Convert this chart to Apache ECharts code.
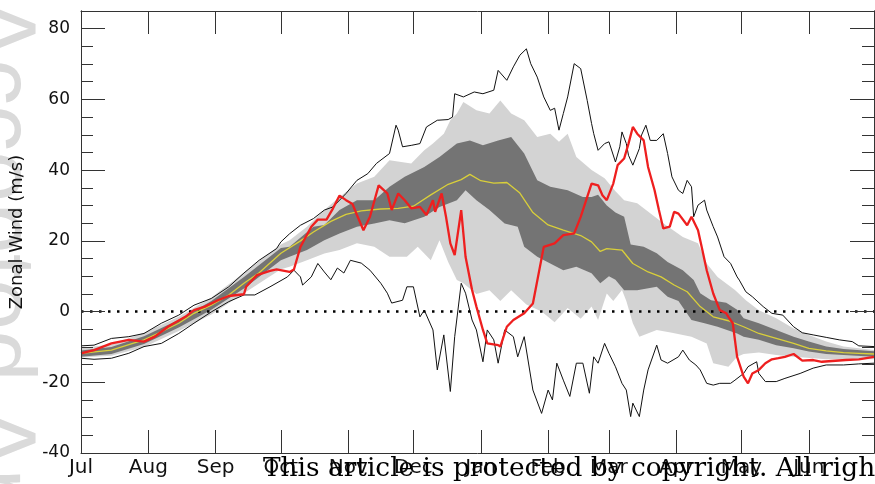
<!DOCTYPE html>
<html>
<head>
<meta charset="utf-8">
<script src="https://cdn.jsdelivr.net/npm/echarts@6/dist/echarts.min.js"></script>
<style>
  html, body { margin: 0; padding: 0; background: #fff; }
  #chart { width: 875px; height: 484px; }
</style>
</head>
<body>
<div id="chart"></div>
<script>
// days since 1 Jul
const monthStarts = [0, 31, 62, 92, 123, 153, 184, 215, 243, 274, 304, 335]
const monthNames = ['Jul', 'Aug', 'Sep', 'Oct', 'Nov', 'Dec', 'Jan', 'Feb', 'Mar', 'Apr', 'May', 'Jun']
const majorY = [-40, -20, 0, 20, 40, 60, 80]
const minorY = [-35, -30, -25, -15, -10, -5, 5, 10, 15, 25, 30, 35, 45, 50, 55, 65, 70, 75]

// [day, m/s]
const maxLine = [[0,-9.7],[6,-9.5],[14,-7.6],[22,-7.1],[29,-6.2],[37,-3.3],[45,-1],[52,1.8],[60,3.7],[68,7],[75,10.9],[82,14.5],[90,17.8],[92,19.7],[96,22],[101,24.4],[107,26.3],[112,28.7],[116,29.6],[122,33.4],[127,37.1],[132,39],[136,41.9],[139,43.3],[142,44.7],[145,52.7],[146,51.3],[148,46.6],[152,47],[156,47.5],[159,52.2],[164,54.1],[169,54.3],[171,55],[172,61.6],[176,60.7],[181,62.1],[185,61.6],[190,62.6],[192,68.2],[196,65.4],[199,69.2],[202,72.5],[205,74.3],[207,70.1],[210,66.3],[213,60.7],[216,56.9],[218,57.5],[220,51.3],[222,56],[224,60.7],[227,70.1],[230,68.7],[233,59.7],[235,53.2],[236,50.3],[238,45.6],[241,47.5],[243,48],[246,42.3],[248,46.6],[249,50.8],[251,47.5],[252,44.2],[254,41.4],[257,46.1],[258,49.9],[260,52.7],[262,48.4],[265,48.4],[268,50.3],[270,44.7],[272,38.1],[275,34.3],[277,33.4],[279,37.1],[281,35.3],[282,26.8],[284,30.1],[287,31.5],[288,28.7],[291,24],[293,21.1],[296,15.5],[299,13.6],[302,9.8],[303,8.9],[306,5.6],[309,4.2],[314,1.4],[318,-0.5],[323,-1],[328,-4.3],[332,-6],[337,-6.6],[343,-7.3],[349,-8],[355,-8.5],[358,-9.7],[365,-9.9]]

const minLine = [[0,-13.2],[6,-13.5],[14,-13.2],[22,-11.8],[29,-9.9],[37,-9],[45,-6.2],[52,-3.3],[60,-0.1],[68,2.8],[75,4.7],[80,4.7],[87,7],[95,9.8],[98,11.7],[101,9.8],[102,7.5],[106,9.8],[109,13.6],[112,11.2],[115,9],[118,12.3],[121,10.9],[124,14.5],[129,13.7],[133,11.7],[138,8],[141,5.2],[143,2.4],[148,3.2],[150,7],[153,7],[156,-1.5],[158,0.4],[162,-5.2],[164,-16.5],[167,-6.6],[170,-22.6],[172,-7.1],[175,8],[177,5.2],[180,-2.4],[182,-5.2],[185,-14.2],[187,-5.2],[190,-8],[192,-14.6],[195,-5.2],[199,-7.1],[201,-12.8],[204,-7.1],[208,-22.2],[212,-28.8],[215,-22.2],[217,-25],[219,-14.6],[222,-19.4],[225,-24],[228,-14.6],[231,-14.6],[234,-23.1],[236,-12.8],[238,-14.6],[241,-9],[243,-11.8],[246,-15.6],[249,-20.3],[251,-22.2],[253,-29.7],[254,-25.9],[257,-29.7],[259,-22.2],[261,-16.5],[265,-9.5],[267,-13.7],[270,-14.6],[275,-12.8],[277,-10.9],[280,-13.7],[283,-15.1],[285,-16.5],[288,-20.3],[291,-20.8],[294,-20.3],[299,-20.3],[301,-19.4],[305,-17.5],[307,-15.6],[311,-14.2],[312,-17.5],[315,-19.8],[320,-19.8],[324,-18.9],[331,-17.5],[337,-16],[343,-15.1],[351,-15.1],[358,-14.8],[365,-14.6]]

const redLine = [[0,-11.8],[6,-10.9],[14,-9],[22,-8],[29,-8.5],[34,-7.1],[40,-4.3],[48,-1.5],[52,0.4],[57,1.4],[63,3.2],[68,4.4],[75,4.9],[76,7],[81,10.3],[87,11.5],[90,11.9],[96,11.2],[98,11.9],[101,18.3],[106,24],[109,26],[113,26],[116,29.2],[119,32.8],[122,31.5],[125,30.4],[127,27.3],[130,23],[133,26.8],[137,35.7],[141,33.4],[143,28.7],[146,33.4],[149,31.5],[152,29.2],[156,29.6],[159,27.3],[162,31.5],[163,28.2],[166,33.4],[168,26.8],[170,19.3],[172,16],[175,28.7],[177,15.5],[180,6.1],[182,1.4],[185,-5.2],[187,-9],[192,-9.5],[193,-9.9],[196,-4.3],[199,-2.4],[204,-0.5],[208,2.3],[213,18.3],[218,19.3],[222,21.6],[227,22.1],[230,26.8],[235,36.2],[238,35.7],[240,32.9],[242,31.5],[245,36.2],[247,41.4],[250,43.3],[252,47.5],[254,52.2],[256,50.3],[259,48.4],[261,40.9],[264,34.3],[266,28.7],[268,23.5],[271,24],[273,28.2],[275,27.7],[279,24.4],[281,26.8],[284,23],[286,17.4],[288,11.7],[291,5.1],[294,0.4],[297,-0.5],[298,-1.5],[300,-3.3],[302,-12.8],[305,-18.4],[307,-20.3],[309,-17.5],[312,-16.5],[315,-14.6],[318,-13.5],[321,-13.2],[324,-12.8],[328,-12],[332,-13.9],[337,-13.7],[341,-14.2],[352,-13.7],[358,-13.5],[365,-12.8]]

const meanLine = [[0,-11.8],[14,-10.9],[29,-8],[37,-5.7],[45,-3.3],[52,-0.5],[60,1.8],[68,4.7],[75,8],[82,11],[92,16.5],[101,20],[107,22.5],[115,25.5],[122,27.5],[129,28.5],[138,29],[146,29.2],[153,29.8],[161,33],[169,36],[175,37.3],[179,38.8],[184,37],[190,36.3],[196,36.5],[202,33.5],[208,28],[215,24.5],[222,23],[230,21.5],[235,19.7],[239,17],[242,17.8],[249,17.4],[254,13.6],[261,11.2],[267,9.8],[273,7.5],[279,5.6],[285,1.4],[291,-1.5],[298,-2.6],[305,-4.3],[312,-6.2],[320,-7.6],[328,-9],[335,-10.4],[343,-11.1],[351,-11.6],[358,-11.8],[365,-12]]

const darkUpper = [[0,-11],[14,-10],[29,-7],[45,-2.3],[60,3],[75,9.8],[92,18],[96,18.3],[107,24],[112,24.5],[119,28.7],[127,31.5],[135,31.5],[142,35.3],[149,38.1],[158,40.9],[165,43.7],[173,47.5],[179,48.4],[185,47],[192,48.4],[198,49.4],[204,44.7],[210,37.1],[216,35.3],[224,34.3],[231,32.4],[235,32.4],[238,33],[242,30],[246,28],[250,26.8],[253,19],[259,18.3],[265,16.5],[270,14],[277,11.7],[282,8.9],[285,5.2],[290,3.2],[297,2.5],[302,0.5],[305,-1.9],[312,-3.3],[320,-5.2],[328,-7.1],[335,-8.5],[343,-9.9],[351,-10.6],[365,-11.2]]
const darkLower = [[0,-12.8],[14,-12],[29,-9.2],[45,-4.5],[60,0.5],[75,6.5],[92,14.5],[96,15.5],[104,17.4],[112,20.2],[119,22.1],[127,24],[135,24.9],[142,25.8],[149,25],[158,26.8],[165,29.6],[173,31.5],[177,34.3],[182,31.5],[188,28.7],[195,24.9],[201,24],[204,18.3],[210,15.5],[216,13.6],[222,11.7],[228,12.7],[235,10.8],[239,8],[243,10],[246,9],[250,6],[256,6],[265,7],[270,4.2],[275,3],[281,-2.4],[287,-3.3],[293,-4.3],[302,-6.2],[305,-7.1],[312,-8],[320,-9.5],[328,-10.4],[335,-11.3],[343,-12],[351,-12.3],[365,-12.8]]
const lightUpper = [[0,-10.3],[14,-9.3],[29,-6],[45,-1.5],[60,4],[75,11],[92,19],[96,20.2],[104,24],[112,28.7],[119,32.4],[127,36.2],[135,38.1],[142,42.8],[152,41.9],[158,45.6],[162,47.5],[167,50.3],[170,54.1],[173,56],[176,59.3],[182,56.9],[188,56],[193,59.7],[198,56],[204,54.1],[210,49.4],[216,50.3],[220,48],[224,50.3],[228,43.7],[235,40],[241,37.7],[246,34],[250,31.5],[256,30.6],[262,27.8],[268,25],[277,21.1],[284,19.3],[288,13.6],[293,9.8],[299,7],[301,6.1],[306,3.2],[312,0.4],[320,-1.9],[328,-4.8],[335,-6.6],[343,-8.5],[351,-9.9],[365,-10.9]]
const lightLower = [[0,-13],[14,-12.5],[29,-10],[45,-5.5],[60,-0.8],[75,5.2],[92,12],[96,12.7],[104,14.5],[112,16.4],[119,17.4],[127,19.3],[135,18.3],[142,15.5],[150,15.5],[155,18.3],[161,14.5],[165,20.2],[169,14],[173,8.9],[176,8],[182,5],[188,6],[193,3],[198,6],[205,2],[212,0],[218,-3],[224,1],[230,-2],[235,1.4],[238,-2.4],[242,5.1],[245,3],[249,6.1],[251,3],[254,-3.3],[257,-7.1],[265,-5.2],[272,-6],[281,-7.1],[288,-9],[291,-14.6],[298,-15.6],[302,-12.8],[305,-12],[312,-11.6],[320,-12.3],[328,-12.8],[343,-13.5],[365,-13.5]]

const zeroLine = [[0, 0], [365, 0]]

const FONT = '"DejaVu Sans", Helvetica, Arial, sans-serif'
const LIGHT = '#d3d3d3'
const DARK = '#747474'
const FRAME = '#333'

// band edges: each edge fills down to the bottom of the plot, painted in order
function band(data, color) {
  return {
    type: 'line', data: data, showSymbol: false, silent: true,
    lineStyle: { width: 0, opacity: 0 },
    areaStyle: { color: color, opacity: 1, origin: 'start' }
  }
}
function line(data, color, width, z) {
  return {
    type: 'line', data: data, showSymbol: false, silent: true, z: z || 3,
    lineStyle: { color: color, width: width }
  }
}

function yAxisOf(position, ticks, len, labels) {
  return {
    type: 'value', position: position, min: -40, max: 85, z: 10,
    axisLine: { show: true, onZero: false, lineStyle: { color: FRAME, width: 1 } },
    axisTick: { show: true, inside: true, length: len, customValues: ticks, lineStyle: { color: FRAME, width: 1 } },
    axisLabel: labels ? {
      show: true, customValues: majorY, margin: 11, fontSize: 17, color: '#111', fontFamily: FONT
    } : { show: false },
    splitLine: { show: false }
  }
}
function xAxisOf(position, labels) {
  return {
    type: 'value', position: position, min: 0, max: 365, z: 10,
    axisLine: { show: true, onZero: false, lineStyle: { color: FRAME, width: 1 } },
    axisTick: { show: true, inside: true, length: 23, customValues: monthStarts, lineStyle: { color: FRAME, width: 1 } },
    axisLabel: labels ? {
      show: true, customValues: monthStarts, margin: 5, fontSize: 20, color: '#111', fontFamily: FONT,
      formatter: v => monthNames[monthStarts.indexOf(v)]
    } : { show: false },
    splitLine: { show: false }
  }
}

const yMain = yAxisOf('left', majorY, 24, true)
yMain.name = 'Zonal Wind (m/s)'
yMain.nameLocation = 'middle'
yMain.nameRotate = 90
yMain.nameGap = 55
yMain.nameTextStyle = { fontSize: 18, color: '#111', fontFamily: FONT }

const option = {
  animation: false,
  backgroundColor: '#fff',
  grid: { left: 81, right: 1, top: 11, bottom: 31 },
  xAxis: [xAxisOf('bottom', true), xAxisOf('top', false)],
  yAxis: [yMain, yAxisOf('left', minorY, 12, false), yAxisOf('right', majorY, 24, false), yAxisOf('right', minorY, 12, false)],
  graphic: [
    {
      type: 'text', x: 42, y: -2, rotation: -Math.PI / 2, z: -10, silent: true,
      style: { text: 'Accepted Article', font: '92px "Liberation Sans", Arial, sans-serif', fill: '#dadada', align: 'left', verticalAlign: 'top' }
    },
    {
      type: 'text', left: 263, top: 456, z: 100, silent: true,
      style: { text: 'This article is protected by copyright. All rights reserved.', font: '26.4px "DejaVu Serif", "Liberation Serif", serif', fill: '#000' }
    }
  ],
  series: [
    band(lightUpper, LIGHT),
    band(darkUpper, DARK),
    band(darkLower, LIGHT),
    band(lightLower, '#fff'),
    line(maxLine, '#111', 1),
    line(minLine, '#111', 1),
    {
      type: 'line', data: zeroLine, showSymbol: false, silent: true, z: 3,
      lineStyle: { color: '#000', width: 2.5, type: [2.5, 6.5] }
    },
    line(meanLine, '#d9cf3a', 1.3, 4),
    line(redLine, '#ee1f1f', 2.3, 5)
  ]
}

const chart = echarts.init(document.getElementById('chart'))
chart.setOption(option)
</script>
</body>
</html>
